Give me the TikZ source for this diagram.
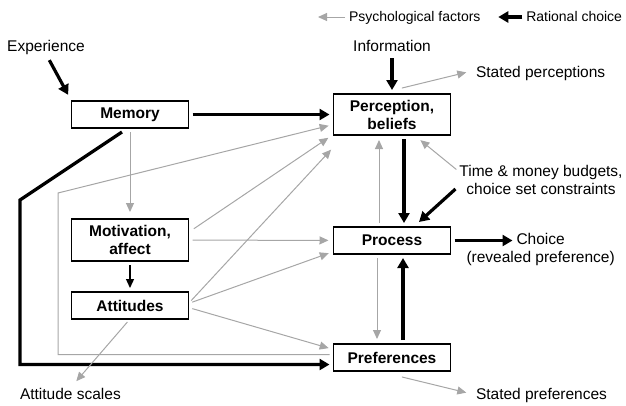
\documentclass[tikz,border=0pt]{standalone}
\usepackage{fontspec}
\setmainfont{Liberation Sans}
\usetikzlibrary{positioning,arrows.meta}

\begin{document}
\begin{tikzpicture}[x=1pt, y=-1pt,
    >={Triangle[length=9pt,width=8pt]},
    font=\fontsize{15.5}{18}\selectfont,
    block/.style={rectangle, draw, line width=1.1pt, minimum width=117pt, minimum height=27pt, inner sep=3pt, outer sep=0pt, align=center, font=\fontsize{15.5}{18}\selectfont\bfseries},
    lbl/.style={inner sep=0pt, outer sep=0pt, text height=11pt, text depth=3pt},
    psy/.style={->, black!35, line width=1pt, shorten <=4pt, shorten >=5pt},
    rat/.style={-{Triangle[length=10pt,width=11pt]}, line width=3.2pt, shorten <=4pt, shorten >=4pt},
    lead/.style={->, line width=1.3pt, shorten <=4pt, shorten >=4pt}]

\useasboundingbox (0,0) rectangle (626,405);

\node[block] (mem) at (130,114.5) {Memory};
\node[block, minimum height=42pt, below=91pt of mem] (mot) {Motivation,\\ affect};
\node[block, below=31pt of mot] (att) {Attitudes};
\node[block, minimum height=41pt, right=145pt of mem] (perc) {Perception,\\ beliefs};
\node[block, below=92pt of perc] (proc) {Process};
\node[block, below=90pt of proc] (pref) {Preferences};

\node[lbl] (exp) at (46,47) {Experience};
\node[lbl, above=40pt of perc] (info) {Information};
\node[lbl, anchor=west] (sperc) at (476,73) {Stated perceptions};
\node[lbl] (budg1) at (541,172) {Time \& money budgets,};
\node[lbl, below=4pt of budg1] (budg2) {choice set constraints};
\node[lbl, right=66pt of proc] (choice) {Choice};
\node[lbl, below=4pt of choice] (revpref) {(revealed preference)};
\node[lbl, anchor=west] (spref) at (476,395) {Stated preferences};
\node[lbl, anchor=west] (ascl) at (20,395) {Attitude scales};

\node[lbl, anchor=west, font=\fontsize{14}{16}\selectfont] (psyleg) at (349,17) {Psychological factors};
\node[lbl, anchor=east, font=\fontsize{14}{16}\selectfont] (ratleg) at (622,17) {Rational choice};
\coordinate[left=31pt of psyleg.west] (psytip);
\coordinate[left=28pt of ratleg.west] (rattip);

\coordinate (fb) at (20,200);
\coordinate (gb) at (58,193);

\draw[psy, shorten >=0pt] (psyleg.west) -- (psytip);
\draw[rat, shorten >=0pt] (ratleg.west) -- (rattip);

\draw[rat, shorten <=7pt, shorten >=7pt] (exp.south) -- (mem.north west);
\draw[rat] (info) -- (perc);
\draw[rat] (mem) -- (perc);
\draw[rat, shorten <=0pt] ([shift={(-8,4)}]mem.south) -- (fb) |- ([shift={(0,7)}]pref.west);
\draw[rat] ([shift={(12,0)}]perc.south) -- ([shift={(12,0)}]proc.north);
\draw[rat] ([shift={(11,0)}]pref.north) -- ([shift={(11,0)}]proc.south);
\draw[rat] (proc) -- (choice);
\draw[rat, shorten <=0pt, shorten >=0pt] ([shift={(-11,-1)}]budg2.west) -- ([shift={(27,-5)}]proc.north);
\draw[lead] (mot) -- (att);

\draw[psy, shorten >=7pt] (mem) -- (mot);
\draw[psy] ([shift={(0,-3)}]pref.west) -| (gb) -- ([shift={(0,10)}]perc.west);
\draw[psy] ([shift={(2,-9)}]mot.east) -- ([shift={(-1,0)}]perc.south west);
\draw[psy] (mot) -- (proc);
\draw[psy] ([shift={(0,-2)}]att.east) -- ([shift={(1,11)}]perc.south west);
\draw[psy] ([shift={(0,-2)}]att.east) -- ([shift={(0,11)}]proc.west);
\draw[psy] ([shift={(0,2)}]att.east) -- ([shift={(0,-8)}]pref.west);
\draw[psy] ([shift={(-15,0)}]proc.south) -- ([shift={(-15,0)}]pref.north);
\draw[psy] ([shift={(-13,0)}]proc.north) -- ([shift={(-13,0)}]perc.south);
\draw[psy] (budg1.west) -- ([shift={(-34,2)}]perc.south east);
\draw[psy, shorten >=10pt] ([shift={(6,-5)}]perc.north) -- ([shift={(0,-3)}]sperc.west);
\draw[psy, shorten >=10pt] ([shift={(6,5)}]pref.south) -- (spref.west);
\draw[psy, shorten >=9pt] (att.south) -- (ascl.north);

\end{tikzpicture}
\end{document}
